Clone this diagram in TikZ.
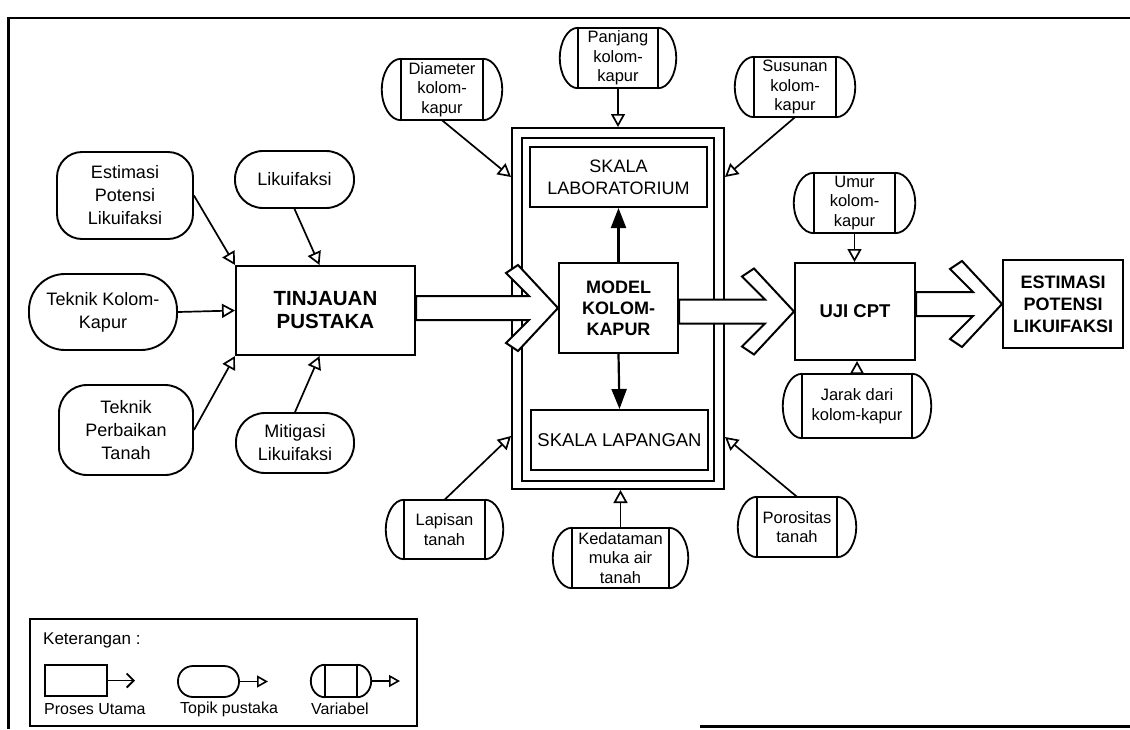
\documentclass[tikz,border=0pt]{standalone}
\usepackage{fontspec}
\setmainfont{Liberation Sans}
\usetikzlibrary{arrows.meta,calc}
\tikzset{
  topic/.style={draw, line width=1.9pt, align=center, inner sep=0pt, font=\fontsize{18}{23}\selectfont},
  proc/.style={draw, line width=2pt, align=center, inner sep=0pt},
  varn/.style={align=center, inner sep=0pt, font=\fontsize{16.5}{19.5}\selectfont},
  varline/.style={line width=1.8pt},
  topicarr/.style={line width=1.7pt, -{Triangle[open,fill=white,length=13pt,width=14pt]}},
  mainarr/.style={line width=2.2pt, -{Triangle[length=20pt,width=15pt]}},
  bigarr/.style={draw, fill=white, line width=2pt, line join=miter},
  frameline/.style={line width=2.2pt},
}
\newcommand\varshape[6]{%
  \node[inner sep=0pt, minimum width=#3+2*#5, minimum height=#4] (#1) at #2 {};
  \node[varn] (#1t) at (#1.center) {#6};
  \draw[varline] ($(#1.north west)+(#5,0)$) rectangle ($(#1.south east)+(-#5,0)$);
  \draw[varline] ($(#1.north west)+(#5,0)$) .. controls +(-0.55*#5,0) and +(0,-0.275*#4) .. (#1.west) .. controls +(0,0.275*#4) and +(-0.55*#5,0) .. ($(#1.south west)+(#5,0)$);
  \draw[varline] ($(#1.north east)+(-#5,0)$) .. controls +(0.55*#5,0) and +(0,-0.275*#4) .. (#1.east) .. controls +(0,0.275*#4) and +(0.55*#5,0) .. ($(#1.south east)+(-#5,0)$);
}
\newcommand\hollowarrow[2]{%
  \draw[bigarr] let \p1=(#1.east), \p2=(#2.west) in
   (\x1,\y2+12pt) -- (\x2-29pt,\y2+12pt) -- (\x2-52pt,\y2+35pt) -- (\x2-40pt,\y2+43pt) -- (\x2,\y2)
   -- (\x2-40pt,\y2-43pt) -- (\x2-52pt,\y2-35pt) -- (\x2-29pt,\y2-12pt) -- (\x1,\y2-12pt) -- cycle;
}
\begin{document}
\begin{tikzpicture}[x=1pt,y=-1pt]
\useasboundingbox (0,0) rectangle (1130,729);
% page frame
\draw[frameline] (1130,18) -- (8.5,18) -- (8.5,729);
\draw[frameline] (700,726.5) -- (1130,726.5);

% topic nodes
\node[topic, minimum width=136pt, minimum height=87pt, rounded corners=25pt] (est) at (125,195.5) {Estimasi\\Potensi\\Likuifaksi};
\node[topic, minimum width=119pt, minimum height=57pt, rounded corners=28pt] (lik) at (294.5,179.5) {Likuifaksi};
\node[topic, minimum width=148pt, minimum height=76pt, rounded corners=36pt] (kk) at (103,312) {Teknik Kolom-\\Kapur};
\node[topic, minimum width=134pt, minimum height=90pt, rounded corners=28pt] (tpt) at (126,430) {Teknik\\Perbaikan\\Tanah};
\node[topic, minimum width=118pt, minimum height=60pt, rounded corners=29pt] (mit) at (295,443) {Mitigasi\\Likuifaksi};

% process nodes
\node[proc, minimum width=179pt, minimum height=89pt, font=\bfseries\fontsize{20.5}{23}\selectfont] (tin) at (325.5,310.5) {TINJAUAN\\PUSTAKA};
\node[draw, line width=2pt, minimum width=212pt, minimum height=361pt, inner sep=0pt] (frameo) at (618,308.5) {};
\node[draw, line width=2pt, minimum width=192pt, minimum height=343pt, inner sep=0pt] (framei) at (618,309.5) {};
\node[proc, minimum width=177pt, minimum height=60pt, font=\fontsize{18}{22}\selectfont] (lab) at (618.5,177) {SKALA\\LABORATORIUM};
\node[proc, minimum width=119pt, minimum height=90pt, font=\bfseries\fontsize{18}{21}\selectfont] (mod) at (618.5,308) {MODEL\\KOLOM-\\KAPUR};
\node[proc, minimum width=177pt, minimum height=60pt, font=\fontsize{18.5}{22}\selectfont] (lpg) at (619.5,440) {SKALA LAPANGAN};
\node[proc, minimum width=120pt, minimum height=97pt, font=\bfseries\fontsize{18.5}{22}\selectfont] (uji) at (855,311.5) {UJI CPT};
\node[proc, minimum width=120pt, minimum height=88pt, font=\bfseries\fontsize{18}{22}\selectfont] (res) at (1063,304) {ESTIMASI\\POTENSI\\LIKUIFAKSI};

% variable nodes
\varshape{dia}{(442,89.5)}{82}{61}{19}{Diameter\\kolom-\\kapur}
\varshape{pan}{(618,58)}{80}{60}{18}{Panjang\\kolom-\\kapur}
\varshape{sus}{(795,87)}{82}{60}{19}{Susunan\\kolom-\\kapur}
\varshape{umur}{(854.5,203)}{81}{60}{20}{Umur\\kolom-\\kapur}
\varshape{jar}{(857,406)}{110}{64}{19}{Jarak dari\\kolom-kapur}
\varshape{lap}{(444.5,529.5)}{81}{59}{18}{Lapisan\\tanah}
\varshape{ked}{(620.5,558)}{97}{60}{19}{Kedataman\\muka air\\tanah}
\varshape{por}{(797,527)}{80}{60}{19}{Porositas\\tanah}

% topic connectors
\draw[topicarr] (est.east) -- (tin.north west);
\draw[topicarr] (lik.south) -- ([xshift=-6pt]tin.north);
\draw[topicarr] (kk.east) -- (tin.west);
\draw[topicarr] (tpt.east) -- (tin.south west);
\draw[topicarr] (mit.north) -- ([xshift=-6pt]tin.south);

% variable connectors
\draw[topicarr] (dia.south) -- (frameo.west |- lab);
\draw[topicarr] (pan.south) -- (frameo.north);
\draw[topicarr] (sus.south) -- (frameo.east |- lab);
\draw[topicarr] (lap.north) -- ([yshift=4pt]frameo.west |- lpg);
\draw[topicarr] (ked.north) -- (ked.north |- frameo.south);
\draw[topicarr] (por.north) -- ([yshift=3pt]frameo.east |- lpg);
\draw[topicarr] (umur.south) -- (umur.south |- uji.north);
\draw[topicarr] (jar.north) -- (jar.north |- uji.south);

% main arrows
\draw[mainarr] (mod.north) -- (lab.south);
\draw[mainarr] (mod.south) -- (lpg.north);

% hollow arrows
\hollowarrow{tin}{mod}
\hollowarrow{mod}{uji}
\hollowarrow{uji}{res}

% legend
\node[draw, line width=1.8pt, minimum width=387pt, minimum height=107pt, inner sep=0pt] (leg) at (223.5,672.5) {};
\node[anchor=west, inner sep=0pt, font=\fontsize{17}{20}\selectfont] (legt) at (43,640) {Keterangan :};
\node[proc, line width=1.8pt, minimum width=62pt, minimum height=31pt] (lrect) at (76,680.5) {};
\coordinate (lrectend) at (135,680.5);
\draw[line width=1.8pt, -{Straight Barb[length=7pt,width=14pt]}] (lrect.east) -- (lrectend);
\node[topic, line width=1.8pt, minimum width=61pt, minimum height=31pt, rounded corners=15pt] (ltop) at (208.5,681.5) {};
\coordinate (ltopend) at (268,681.5);
\draw[line width=1.6pt, -{Triangle[open,fill=white,length=11pt,width=12pt]}] (ltop.east) -- (ltopend);
\varshape{lvar}{(341,681)}{32}{32}{14}{}
\coordinate (lvarend) at (400,681);
\draw[line width=1.6pt, -{Triangle[open,fill=white,length=11pt,width=12pt]}] (lvar.east) -- (lvarend);
\node[anchor=west, inner sep=0pt, font=\fontsize{16}{19}\selectfont] (l1) at (44,709) {Proses Utama};
\node[anchor=west, inner sep=0pt, font=\fontsize{16}{19}\selectfont] (l2) at (180,709) {Topik pustaka};
\node[anchor=west, inner sep=0pt, font=\fontsize{16}{19}\selectfont] (l3) at (311,709) {Variabel};
\end{tikzpicture}
\end{document}
